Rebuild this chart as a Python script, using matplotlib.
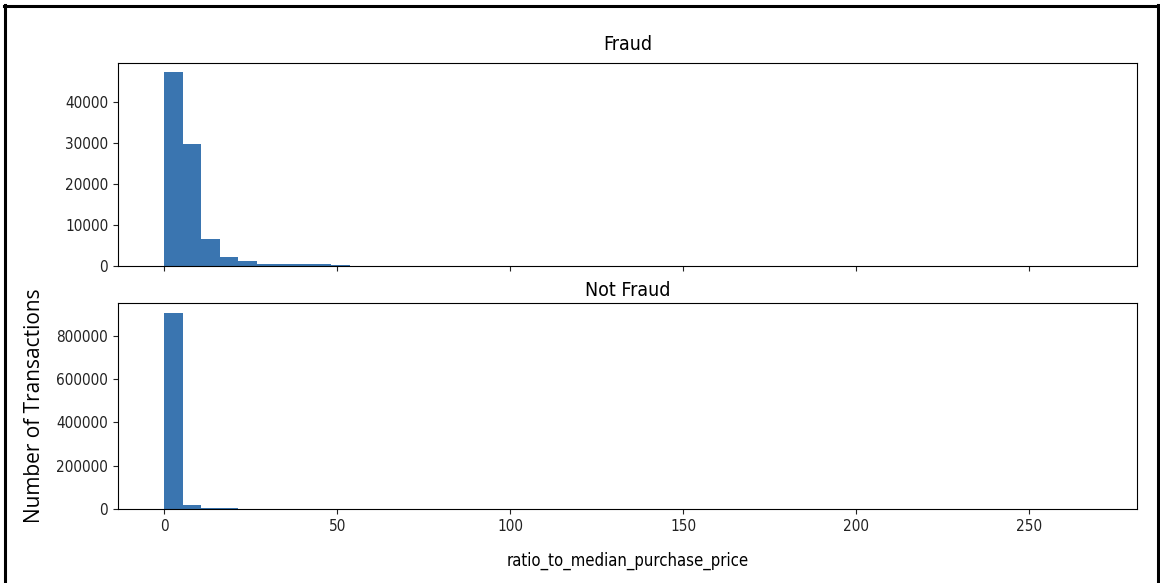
import numpy as np
import matplotlib
matplotlib.use("Agg")
import matplotlib.pyplot as plt
from matplotlib.lines import Line2D

#### Data ####
# histogram of ratio_to_median_purchase_price, 50 bins from 0 to the max value
ratio_max = 267.8
n_bins = 50

fraud_counts = [47300, 29900, 6650, 2250, 1200, 600, 500, 450, 380, 320,
                40, 25, 15, 10, 8, 5, 4, 3, 2, 2,
                1, 1, 1, 0, 0, 0, 0, 0, 0, 0,
                0, 0, 0, 0, 0, 0, 0, 0, 0, 0,
                0, 0, 0, 0, 0, 0, 0, 0, 0, 1]

not_fraud_counts = [905000, 19000, 5500, 4000, 60, 20, 10, 5, 2, 1,
                    0, 0, 0, 0, 0, 0, 0, 0, 0, 0,
                    0, 0, 0, 0, 0, 0, 0, 0, 0, 0,
                    0, 0, 0, 0, 0, 0, 0, 0, 0, 0,
                    0, 0, 0, 0, 0, 0, 0, 0, 0, 0]

titles = ["Fraud", "Not Fraud"]
xticks = [0, 50, 100, 150, 200, 250]

edges = np.linspace(0, ratio_max, n_bins + 1)
centers = (edges[:-1] + edges[1:]) / 2

#### Figure ####
plt.rcParams['font.family'] = ['DejaVu Sans']
plt.rcParams['font.stretch'] = 'condensed'
bar_color = '#3a75b0'

fig = plt.figure(figsize=(11.6, 5.83), dpi=100)
ax1 = fig.add_axes([0.1017, 0.5437, 0.8784, 0.3486])
ax2 = fig.add_axes([0.1017, 0.1269, 0.8784, 0.3534])
ax1.sharex(ax2)

ax1.hist(centers, bins=edges, weights=fraud_counts, color=bar_color)
ax2.hist(centers, bins=edges, weights=not_fraud_counts, color=bar_color)

ax1.set_title(titles[0], fontsize=14, pad=9)
ax2.set_title(titles[1], fontsize=14, pad=5)

ax1.tick_params(labelbottom=False)
ax2.set_xticks(xticks)
for ax in (ax1, ax2):
    ax.tick_params(labelsize=11, colors='#222222')

ax2.set_xlabel('ratio_to_median_purchase_price', fontsize=12, labelpad=13)
ax2.set_ylabel('Number of Transactions', fontsize=15, family='Open Sans',
               stretch='normal')
ax2.yaxis.set_label_coords(-0.072, 0.5)

# black frame around the figure (no bottom edge)
lw = 2.2
fig.add_artist(Line2D([0.0045, 0.0045], [0, 0.991], color='black', lw=lw,
                      transform=fig.transFigure))
fig.add_artist(Line2D([0.0035, 0.9985], [0.9905, 0.9905], color='black', lw=lw,
                      transform=fig.transFigure))
fig.add_artist(Line2D([0.998, 0.998], [0, 0.991], color='black', lw=lw,
                      transform=fig.transFigure))

fig.savefig("out.png", dpi=100)
